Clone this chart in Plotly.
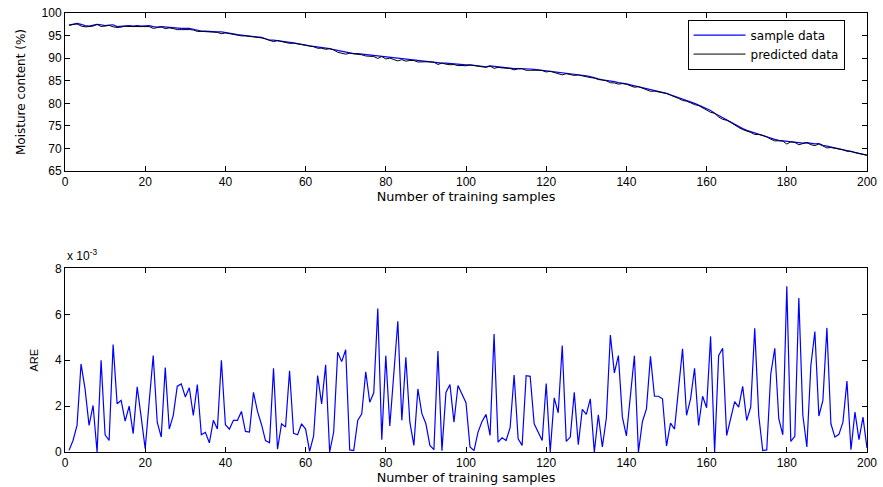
import plotly.graph_objects as go

samples = list(range(1, 201))

sample_data = [
    97.3, 97.5, 97.7, 97.5, 97.2, 97.1, 97.3, 97.5, 97.4, 97.2, 97.3, 97.4, 97.0, 97.1, 97.2, 97.2, 97.1, 97.2, 97.1, 97.1,
    97.2, 97.0, 96.9, 97.0, 96.9, 96.8, 96.7, 96.6, 96.6, 96.6, 96.6, 96.4, 96.2, 96.0, 96.0, 95.9, 95.9, 95.8, 95.8, 95.7,
    95.5, 95.4, 95.2, 95.1, 95.0, 94.9, 94.8, 94.7, 94.6, 94.3, 94.0, 94.0, 93.9, 93.8, 93.7, 93.6, 93.4, 93.2, 93.1, 92.9,
    92.7, 92.6, 92.5, 92.4, 92.3, 92.1, 91.9, 91.7, 91.5, 91.3, 91.1, 91.0, 91.0, 90.9, 90.8, 90.7, 90.6, 90.5, 90.4, 90.2,
    90.1, 90.0, 89.9, 89.8, 89.7, 89.6, 89.5, 89.4, 89.4, 89.3, 89.2, 89.1, 89.0, 88.9, 88.9, 88.8, 88.7, 88.6, 88.6, 88.5,
    88.5, 88.4, 88.3, 88.2, 88.1, 88.3, 88.2, 88.0, 87.9, 87.8, 87.8, 87.7, 87.7, 87.7, 87.6, 87.6, 87.5, 87.4, 87.3, 87.2,
    87.1, 87.0, 86.8, 86.7, 86.6, 86.5, 86.4, 86.3, 86.2, 86.1, 85.9, 85.6, 85.4, 85.2, 85.1, 85.0, 84.8, 84.6, 84.5, 84.3,
    84.1, 83.9, 83.7, 83.5, 83.2, 83.0, 82.9, 82.7, 82.4, 82.2, 81.9, 81.6, 81.3, 81.0, 80.6, 80.3, 80.0, 79.6, 79.2, 78.8,
    78.4, 77.8, 77.3, 76.8, 76.3, 75.9, 75.3, 74.8, 74.4, 74.0, 73.7, 73.5, 73.2, 72.9, 72.6, 72.3, 72.0, 71.8, 71.7, 71.5,
    71.5, 71.4, 71.3, 71.2, 71.3, 71.1, 71.0, 71.1, 70.7, 70.5, 70.3, 70.1, 69.9, 69.8, 69.6, 69.4, 69.2, 68.9, 68.7, 68.5,
]

# ARE values in units of 1e-3
are_e3 = [
    0.07, 0.5, 1.16, 3.84, 2.75, 1.16, 2.03, 0.0, 4.0, 0.75, 0.5, 4.68, 2.1, 2.25, 1.35, 2.0, 0.8, 2.84, 1.52, 0.14,
    2.2, 4.2, 1.3, 0.65, 3.68, 1.0, 1.6, 2.87, 2.97, 2.4, 2.8, 1.6, 2.94, 0.75, 0.86, 0.4, 1.38, 1.0, 4.0, 1.19,
    1.0, 1.38, 1.38, 1.77, 0.9, 0.87, 2.6, 1.77, 1.2, 0.5, 0.4, 3.65, 0.12, 1.23, 1.09, 3.54, 0.81, 0.75, 1.23, 1.0,
    0.03, 0.7, 3.33, 2.1, 3.8, 0.0, 0.87, 4.35, 3.94, 4.46, 0.09, 0.06, 1.38, 1.67, 3.5, 2.17, 2.58, 6.26, 0.54, 4.2,
    1.13, 3.4, 5.7, 1.38, 4.13, 1.3, 0.29, 2.75, 1.67, 1.23, 0.29, 0.1, 4.4, 0.06, 2.6, 2.94, 1.3, 2.9, 2.55, 2.15,
    0.22, 0.06, 0.87, 1.33, 1.64, 0.72, 5.14, 0.43, 0.62, 0.5, 1.06, 3.36, 0.58, 0.29, 3.33, 3.3, 1.23, 0.84, 0.5, 2.99,
    0.0, 2.36, 1.71, 4.64, 0.46, 0.65, 2.6, 0.32, 1.86, 1.64, 2.32, 0.0, 1.62, 0.22, 1.48, 5.1, 3.45, 4.2, 1.52, 0.7,
    2.46, 4.2, 0.0, 1.33, 1.88, 4.17, 2.43, 2.43, 2.32, 0.26, 1.26, 1.0, 2.75, 4.5, 1.6, 2.32, 3.65, 1.16, 2.43, 1.93,
    5.04, 0.0, 4.2, 4.52, 0.72, 1.45, 2.2, 1.96, 2.86, 1.38, 1.96, 5.39, 1.6, 0.06, 0.09, 3.4, 4.52, 1.45, 0.75, 7.22,
    0.46, 0.68, 6.71, 1.6, 0.22, 3.77, 5.25, 1.57, 2.25, 5.41, 1.23, 0.65, 0.77, 1.3, 3.09, 0.1, 1.74, 0.54, 1.52, 0.17,
]

# predicted = sample * (1 - ARE)  (ARE definition)
predicted_data = [round(s * (1 - a * 1e-3), 3) for s, a in zip(sample_data, are_e3)]

top_yticks = [65, 70, 75, 80, 85, 90, 95, 100]
bottom_yticks = [0, 2, 4, 6, 8]
xticks = list(range(0, 201, 20))

FONT = "Liberation Sans, Arial, sans-serif"
WIDE = "DejaVu Sans, Liberation Sans, sans-serif"

fig = go.Figure()
fig.add_trace(go.Scatter(x=samples, y=sample_data, mode="lines", name="sample data",
                         line=dict(color="#0000FF", width=1.2), xaxis="x", yaxis="y"))
fig.add_trace(go.Scatter(x=samples, y=predicted_data, mode="lines", name="predicted data",
                         line=dict(color="#000000", width=1.0), xaxis="x", yaxis="y"))
fig.add_trace(go.Scatter(x=samples, y=are_e3, mode="lines", showlegend=False,
                         line=dict(color="#0000FF", width=1.2), xaxis="x2", yaxis="y2"))

axis_common = dict(showgrid=False, zeroline=False, showline=True, linecolor="black", linewidth=1,
                   mirror="ticks", ticks="inside", ticklen=5, tickcolor="black",
                   tickfont=dict(family=FONT, size=12, color="black"))

fig.update_layout(
    width=883, height=487,
    margin=dict(l=65, r=12, t=6, b=31),
    paper_bgcolor="white", plot_bgcolor="white",
    font=dict(family=FONT, size=12, color="black"),
    showlegend=True,
    legend=dict(x=0.972, y=0.985, xanchor="right", yanchor="top",
                bordercolor="black", borderwidth=1, bgcolor="white",
                font=dict(family=WIDE, size=12), tracegroupgap=0, itemwidth=52),
    xaxis=dict(domain=[0, 1], range=[0, 200], tickvals=xticks, anchor="y", ticklabeloverflow="allow",
               title=dict(text="Number of training samples", font=dict(family=WIDE, size=12.8), standoff=2),
               **axis_common),
    yaxis=dict(domain=[0.64, 1], range=[65, 100], tickvals=top_yticks, anchor="x",
               title=dict(text="Moisture content (%)", font=dict(family=WIDE, size=12), standoff=13),
               **axis_common),
    xaxis2=dict(domain=[0, 1], range=[0, 200], tickvals=xticks, anchor="y2", ticklabeloverflow="allow",
                title=dict(text="Number of training samples", font=dict(family=WIDE, size=12.8), standoff=2),
                **axis_common),
    yaxis2=dict(domain=[0, 0.418], range=[0, 8], tickvals=bottom_yticks, anchor="x2",
                title=dict(text="ARE", font=dict(size=11), standoff=14),
                **axis_common),
    annotations=[dict(text="x 10<sup>-3</sup>", xref="paper", yref="paper", x=0.0, y=0.425,
                      xanchor="left", yanchor="bottom", showarrow=False,
                      font=dict(family=FONT, size=12))],
)

fig.write_html("out.html")
